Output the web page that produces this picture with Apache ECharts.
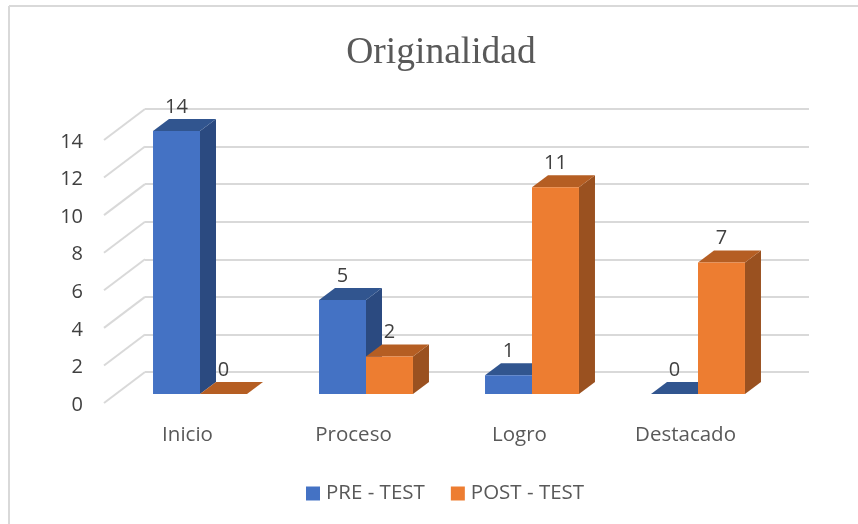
<!DOCTYPE html>
<html>
<head>
<meta charset="utf-8">
<style>
html, body { margin: 0; padding: 0; background: #fff; }
#chart { width: 858px; height: 524px; }
</style>
<script src="https://cdn.jsdelivr.net/npm/echarts@6/dist/echarts.min.js"></script>
</head>
<body>
<div id="chart"></div>
<script>
var categories = ['Inicio', 'Proceso', 'Logro', 'Destacado'];
var preTest = [14, 5, 1, 0];
var postTest = [0, 2, 11, 7];
var yTicks = [0, 2, 4, 6, 8, 10, 12, 14];

// pixel offsets of the fake 3D box, measured from the back wall
var wallDx = -41, wallDy = 31;     // front edge of the floor
var frontDx = -28, frontDy = 22;   // front face of the bars
var depthDx = 16, depthDy = -12;   // depth of one bar
var barRatio = 0.283;

function poly(points, color) {
	return { type: 'polygon', shape: { points: points }, style: { fill: color } };
}

function renderBar(side, colors) {
	return function(params, api) {
		var back = api.coord([api.value(0), api.value(1)]);
		var zero = api.coord([api.value(0), 0]);
		var w = api.size([1, 0])[0] * barRatio;
		var x0 = back[0] + frontDx + (side === 0 ? -w : 0);
		var x1 = x0 + w;
		var top = back[1] + frontDy;
		var base = zero[1] + frontDy;
		var children = [
			poly([[x1, top], [x1 + depthDx, top + depthDy], [x1 + depthDx, base + depthDy], [x1, base]], colors.side),
			poly([[x0, top], [x1, top], [x1 + depthDx, top + depthDy], [x0 + depthDx, top + depthDy]], colors.top)
		];
		if (base > top) {
			children.push({ type: 'rect', shape: { x: x0, y: top, width: w, height: base - top }, style: { fill: colors.front } });
		}
		children.push({
			type: 'text',
			style: {
				text: String(api.value(1)),
				x: (x0 + x1) / 2,
				y: top + depthDy - 12,
				align: 'center',
				verticalAlign: 'middle',
				fill: '#404040',
				font: '20px "Open Sans"'
			}
		});
		return { type: 'group', children: children };
	};
}

// slanted gridline on the side wall plus its tick label
function renderStub(params, api) {
	var p = api.coord([0, api.value(0)]);
	var x = p[0] - api.size([1, 0])[0] / 2;
	return {
		type: 'group',
		children: [{
			type: 'line',
			shape: { x1: x, y1: p[1], x2: x + wallDx, y2: p[1] + wallDy },
			style: { stroke: '#d9d9d9', lineWidth: 2 }
		}, {
			type: 'text',
			style: {
				text: String(api.value(0)),
				x: x + wallDx - 21,
				y: p[1] + wallDy + 2,
				align: 'right',
				verticalAlign: 'middle',
				fill: '#404040',
				font: '20px "Open Sans"'
			}
		}]
	};
}

function barData(values) {
	return values.map(function(v, i) { return [i, v]; });
}

var myChart = echarts.init(document.getElementById('chart'), null, { renderer: 'canvas' });
var option = {
	animation: false,
	backgroundColor: '#fff',
	title: {
		text: 'Originalidad',
		left: 436,
		top: 29,
		textAlign: 'center',
		textStyle: { fontFamily: 'Liberation Serif', fontWeight: 'normal', fontSize: 37.5, color: '#595959' }
	},
	legend: {
		data: ['PRE - TEST', 'POST - TEST'],
		left: 301,
		top: 478,
		icon: 'rect',
		itemWidth: 14,
		itemHeight: 14,
		itemGap: 26,
		textStyle: { fontFamily: 'Open Sans', fontSize: 20.5, color: '#595959', padding: [0, 0, 0, 1] }
	},
	grid: { left: 145, right: 49, top: 109, bottom: 152 },
	xAxis: {
		type: 'category',
		data: categories,
		axisLine: { show: false },
		axisTick: { show: false },
		axisLabel: {
			fontFamily: 'Open Sans',
			fontSize: 20.5,
			color: '#595959',
			margin: 53,
			padding: [0, 81, 0, 0]
		}
	},
	yAxis: {
		type: 'value',
		min: 0,
		max: 14,
		interval: 2,
		axisLine: { show: false },
		axisTick: { show: false },
		splitLine: { lineStyle: { color: '#d9d9d9', width: 2 } },
		axisLabel: { show: false }
	},
	series: [
		{
			type: 'custom',
			name: 'stubs',
			silent: true,
			renderItem: renderStub,
			encode: { y: 0 },
			data: yTicks.map(function(v) { return [v]; }),
			z: 1
		},
		{
			type: 'custom',
			name: 'PRE - TEST',
			renderItem: renderBar(0, { front: '#4472c4', side: '#2b4a80', top: '#31558f' }),
			itemStyle: { color: '#4472c4' },
			encode: { x: 0, y: 1 },
			data: barData(preTest),
			z: 2
		},
		{
			type: 'custom',
			name: 'POST - TEST',
			renderItem: renderBar(1, { front: '#ed7d31', side: '#9a5120', top: '#b55e23' }),
			itemStyle: { color: '#ed7d31' },
			encode: { x: 0, y: 1 },
			data: barData(postTest),
			z: 3
		}
	],
	graphic: [
		{ type: 'line', silent: true, shape: { x1: 9, y1: 6, x2: 858, y2: 6 }, style: { stroke: '#d9d9d9', lineWidth: 2 } },
		{ type: 'line', silent: true, shape: { x1: 9, y1: 6, x2: 9, y2: 524 }, style: { stroke: '#d9d9d9', lineWidth: 2 } }
	]
};
myChart.setOption(option);
</script>
</body>
</html>
